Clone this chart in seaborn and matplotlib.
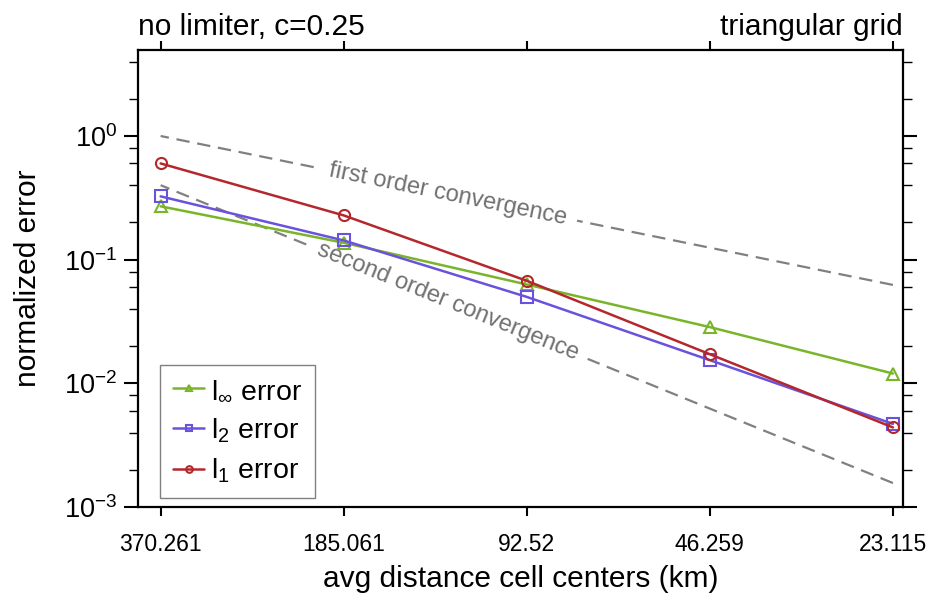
import numpy as np
import pandas as pd
import matplotlib
matplotlib.use("Agg")
import matplotlib.pyplot as plt
from matplotlib.ticker import LogLocator, FixedLocator, FixedFormatter, NullLocator, FuncFormatter
import seaborn as sns

# ---- data ----
dist_km = [370.261, 185.061, 92.52, 46.259, 23.115]
dist_labels = ["370.261", "185.061", "92.52", "46.259", "23.115"]
err_linf = [0.27, 0.137, 0.063, 0.0285, 0.012]
err_l2 = [0.325, 0.143, 0.050, 0.0154, 0.0047]
err_l1 = [0.60, 0.228, 0.0675, 0.0172, 0.0044]
first_order = [1.0, 0.5, 0.25, 0.125, 0.0625]
second_order = [0.4, 0.1, 0.025, 0.00625, 0.0015625]

series_names = [r"l$_\infty$ error", r"l$_2$ error", r"l$_1$ error"]
series_vals = [err_linf, err_l2, err_l1]
series_colors = ["#79b52a", "#6a52dc", "#b4282c"]
series_markers = ["^", "s", "o"]

sns.set_style("ticks")
plt.rcParams["font.family"] = ["Liberation Sans", "DejaVu Sans"]
plt.rcParams["mathtext.fontset"] = "custom"
plt.rcParams["mathtext.rm"] = "Liberation Sans"
plt.rcParams["mathtext.it"] = "Liberation Sans:italic"
plt.rcParams["mathtext.bf"] = "Liberation Sans:bold"
plt.rcParams["text.color"] = "black"
plt.rcParams["axes.labelcolor"] = "black"
plt.rcParams["xtick.color"] = "black"
plt.rcParams["ytick.color"] = "black"

fig = plt.figure(figsize=(9.33, 6.0), dpi=100)
ax = fig.add_axes([138 / 933, 1 - 507 / 600, (903 - 138) / 933, (507 - 50) / 600])

ax.set_xscale("log")
ax.set_yscale("log")
ax.set_xlim(403.4, 22.25)
ax.set_ylim(1e-3, 4.96)

# reference lines
ref_df = pd.DataFrame({"x": dist_km, "first": first_order, "second": second_order})
for col in ["first", "second"]:
    sns.lineplot(data=ref_df, x="x", y=col, ax=ax, color="#808080", lw=1.6,
                 dashes=False, zorder=1).lines[-1].set_dashes((6, 3.5))

# data series
for name, vals, col, mk in zip(series_names, series_vals, series_colors, series_markers):
    df = pd.DataFrame({"x": dist_km, "y": vals})
    sns.lineplot(data=df, x="x", y="y", ax=ax, color=col, lw=1.8, marker=mk,
                 markersize=8, markerfacecolor="none", markeredgecolor=col,
                 markeredgewidth=1.5, label=name, zorder=4)

# annotations along the reference lines
def line_angle(xs, ys):
    p = ax.transData.transform(np.column_stack([xs, ys]))
    return np.degrees(np.arctan2(p[-1, 1] - p[0, 1], p[-1, 0] - p[0, 0]))

txt_x = 124.9
a1 = line_angle(dist_km, first_order)
a2 = line_angle(dist_km, second_order)
y1 = np.interp(np.log(txt_x), np.log(dist_km[::-1]), np.log(first_order[::-1]))
y2 = np.interp(np.log(txt_x), np.log(dist_km[::-1]), np.log(second_order[::-1]))
bb = dict(facecolor="white", edgecolor="none", pad=8)
ax.text(txt_x, np.exp(y1), "first order convergence", rotation=a1, rotation_mode="anchor",
        ha="center", va="center", fontsize=17, color="#707070", bbox=bb, zorder=2)
ax.text(txt_x, np.exp(y2), "second order convergence", rotation=a2, rotation_mode="anchor",
        ha="center", va="center", fontsize=17, color="#707070", bbox=bb, zorder=2)

# axes styling
for s in ax.spines.values():
    s.set_linewidth(1.6)
    s.set_visible(True)
    s.set_color("black")

ax.xaxis.set_major_locator(FixedLocator(dist_km))
ax.xaxis.set_major_formatter(FixedFormatter(dist_labels))
ax.xaxis.set_minor_locator(NullLocator())
ax.tick_params(axis="x", which="major", direction="out", length=6.5, width=1.5,
               labelsize=16.5, pad=12, top=True, bottom=True, labeltop=False)

ax.yaxis.set_major_locator(LogLocator(base=10, numticks=10))
ax.yaxis.set_minor_locator(LogLocator(base=10, subs=(2, 4, 6, 8), numticks=10))
ax.yaxis.set_major_formatter(FuncFormatter(lambda v, p: r"$\mathregular{10^{%d}}$" % int(round(np.log10(v)))))
ax.tick_params(axis="y", which="major", direction="out", length=10, width=1.5,
               labelsize=19.5, pad=5, left=True, right=True, labelright=False)
ax.tick_params(axis="y", which="minor", direction="out", length=6.5, width=1.0,
               left=True, right=True)

ax.set_xlabel("avg distance cell centers (km)", fontsize=21.5)
ax.set_ylabel("normalized error", fontsize=21.5)
ax.xaxis.set_label_coords(0.5, -0.127)
ax.yaxis.set_label_coords(-0.125, 0.5)

ax.set_title("no limiter, c=0.25", loc="left", fontsize=21.5, pad=11)
ax.set_title("triangular grid", loc="right", fontsize=21.5, pad=11)

leg = ax.legend(loc="lower left", bbox_to_anchor=(0.0288, 0.0197), fontsize=20.5,
                frameon=True, fancybox=False, edgecolor="#808080", framealpha=1,
                handlelength=1.1, handletextpad=0.25, labelspacing=0.42,
                borderpad=0.45, borderaxespad=0, markerscale=0.6)
leg.get_frame().set_linewidth(1.0)
for t in leg.get_texts():
    t.set_color("black")

fig.savefig("out.png", dpi=100)
